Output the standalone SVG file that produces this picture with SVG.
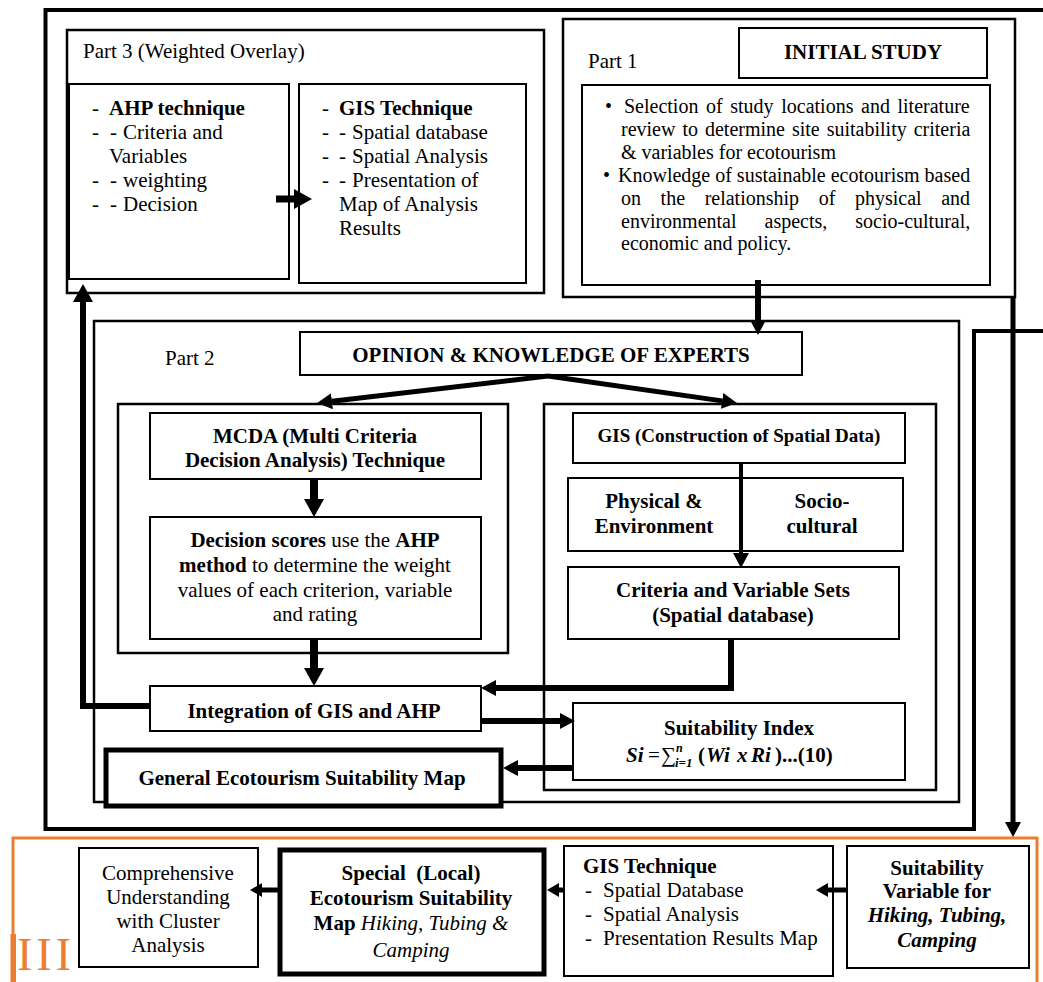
<svg xmlns="http://www.w3.org/2000/svg" width="1043" height="982" viewBox="0 0 1043 982">
<style>
.t{font-family:"Liberation Serif","Times New Roman",serif;font-size:21px;fill:#000}
.b{font-weight:bold}
.i{font-style:italic}
.c{text-anchor:middle}
.s20{font-size:20px}
.box{fill:#fff;stroke:#000;stroke-width:2}
.part{fill:#fff;stroke:#000;stroke-width:2.5}
.thick{fill:#fff;stroke:#000;stroke-width:5}
.conn{fill:none;stroke:#000}
.orange{fill:none;stroke:#ED7D31;stroke-width:3}
</style>
<defs>
<marker id="hL" viewBox="0 -10 18 20" markerWidth="18" markerHeight="20" refX="0" refY="0" orient="auto" markerUnits="userSpaceOnUse"><path d="M0,-10 L18,0 L0,10 z"/></marker>
<marker id="hM" viewBox="0 -8 15 16" markerWidth="15" markerHeight="16" refX="0" refY="0" orient="auto" markerUnits="userSpaceOnUse"><path d="M0,-8 L15,0 L0,8 z"/></marker>
<marker id="hS" viewBox="0 -7 12 14" markerWidth="12" markerHeight="14" refX="0" refY="0" orient="auto" markerUnits="userSpaceOnUse"><path d="M0,-7 L12,0 L0,7 z"/></marker>
</defs>
<rect width="1043" height="982" fill="#fff"/>

<g id="outer-frame">
<path d="M1043,10 H45.5 V829 H974 V331 H1043" fill="none" stroke="#000" stroke-width="4"/>
</g>

<g id="part3">
<rect class="part" x="67" y="30" width="477" height="263"/>
<text class="t" x="83" y="58">Part 3 (Weighted Overlay)</text>
</g>
<g id="ahp-technique">
<rect class="box" x="69" y="84" width="220" height="195"/>
<text class="t" y="115"><tspan x="92">-</tspan><tspan x="109" class="b">AHP technique</tspan></text>
<text class="t" y="139"><tspan x="92">-</tspan><tspan x="110">-</tspan><tspan x="123">Criteria and</tspan></text>
<text class="t" x="109" y="163">Variables</text>
<text class="t" y="187"><tspan x="92">-</tspan><tspan x="110">-</tspan><tspan x="123">weighting</tspan></text>
<text class="t" y="211"><tspan x="92">-</tspan><tspan x="110">-</tspan><tspan x="123">Decision</tspan></text>
</g>
<g id="gis-technique-3">
<rect class="box" x="299" y="84" width="227" height="199"/>
<text class="t" y="115"><tspan x="322">-</tspan><tspan x="339" class="b">GIS Technique</tspan></text>
<text class="t" y="139"><tspan x="322">-</tspan><tspan x="339">-</tspan><tspan x="352">Spatial database</tspan></text>
<text class="t" y="163"><tspan x="322">-</tspan><tspan x="339">-</tspan><tspan x="352">Spatial Analysis</tspan></text>
<text class="t" y="187"><tspan x="322">-</tspan><tspan x="339">-</tspan><tspan x="352">Presentation of</tspan></text>
<text class="t" x="339" y="211">Map of Analysis</text>
<text class="t" x="339" y="235">Results</text>
</g>

<g id="part1">
<rect class="part" x="563" y="19" width="452" height="278"/>
<text class="t" x="588" y="68">Part 1</text>
</g>
<g id="initial-study">
<rect class="box" x="739" y="28" width="248" height="50"/>
<text class="t b c" x="863" y="59">INITIAL STUDY</text>
</g>
<g id="study-content">
<rect class="box" x="582" y="85" width="408" height="200"/>
<text class="t s20" x="605" y="113">•</text>
<text class="t s20" x="624" y="113" word-spacing="2.6">Selection of study locations and literature</text>
<text class="t s20" x="621" y="136" word-spacing="2">review to determine site suitability criteria</text>
<text class="t s20" x="621" y="159">&amp; variables for ecotourism</text>
<text class="t s20" x="603" y="182">•</text>
<text class="t s20" x="618" y="182">Knowledge of sustainable ecotourism based</text>
<text class="t s20" x="621" y="205" word-spacing="14.6">on the relationship of physical and</text>
<text class="t s20" x="621" y="228" word-spacing="23">environmental aspects, socio-cultural,</text>
<text class="t s20" x="621" y="250">economic and policy.</text>
</g>

<g id="part2">
<rect class="part" x="94" y="321" width="865" height="481"/>
<text class="t" x="165" y="365">Part 2</text>
</g>
<g id="opinion">
<rect class="box" x="300" y="332" width="502" height="43"/>
<text class="t b c" x="551" y="362">OPINION &amp; KNOWLEDGE OF EXPERTS</text>
</g>
<g id="mcda-panel">
<rect class="part" x="118" y="404" width="390" height="249"/>
</g>
<g id="mcda">
<rect class="box" x="150" y="413" width="331" height="66"/>
<text class="t b c" x="315" y="443">MCDA (Multi Criteria</text>
<text class="t b c" x="315" y="467">Decision Analysis) Technique</text>
</g>
<g id="decision-scores">
<rect class="box" x="150" y="517" width="331" height="122"/>
<text class="t c" x="315" y="547"><tspan class="b">Decision scores</tspan> use the <tspan class="b">AHP</tspan></text>
<text class="t c" x="315" y="572"><tspan class="b">method</tspan> to determine the weight</text>
<text class="t c" x="315" y="597">values of each criterion, variable</text>
<text class="t c" x="315" y="621">and rating</text>
</g>
<g id="gis-panel">
<rect class="part" x="544" y="404" width="392" height="386"/>
</g>
<g id="gis-construction">
<rect class="box" x="573" y="413" width="332" height="50"/>
<text class="t b c" x="739" y="442" style="font-size:19px">GIS (Construction of Spatial Data)</text>
</g>
<g id="physical-socio">
<rect class="box" x="568" y="478" width="335" height="73"/>
<text class="t b c" x="654" y="508">Physical &amp;</text>
<text class="t b c" x="654" y="533">Environment</text>
<text class="t b c" x="822" y="508">Socio-</text>
<text class="t b c" x="822" y="533">cultural</text>
</g>
<g id="criteria-sets">
<rect class="box" x="568" y="567" width="331" height="72"/>
<text class="t b c" x="733" y="597">Criteria and Variable Sets</text>
<text class="t b c" x="733" y="622">(Spatial database)</text>
</g>
<g id="integration">
<rect class="box" x="150" y="686" width="331" height="45"/>
<text class="t b c" x="314" y="718">Integration of GIS and AHP</text>
</g>
<g id="suitability-index">
<rect class="box" x="573" y="703" width="332" height="77"/>
<text class="t b c" x="739" y="735">Suitability Index</text>
<text class="t b" y="762"><tspan x="626" class="i">Si</tspan><tspan x="648" style="font-weight:normal">=</tspan><tspan x="661" style="font-weight:normal">∑</tspan><tspan x="698">(</tspan><tspan x="706" class="i">Wi</tspan><tspan x="737" class="i">x</tspan><tspan x="751" class="i">Ri</tspan><tspan x="775">)</tspan><tspan x="782">...(10)</tspan></text>
<text class="t b i" x="676" y="752" style="font-size:12px">n</text>
<text class="t b i" x="675" y="767" style="font-size:13px">i=1</text>
</g>
<g id="general-map">
<rect class="thick" x="106" y="750" width="395" height="56"/>
<text class="t b c" x="302" y="785">General Ecotourism Suitability Map</text>
</g>

<g id="part-iii">
<path class="orange" d="M13,985 V838 H1037 V985"/>
<rect x="10.5" y="934" width="5.5" height="48" fill="#ED7D31"/>
<text x="17" y="970" letter-spacing="4" style="font-family:'Liberation Serif',serif;font-size:46px;fill:#ED7D31">III</text>
</g>
<g id="comprehensive">
<rect class="box" x="79" y="848" width="179" height="119"/>
<text class="t c" x="168" y="880">Comprehensive</text>
<text class="t c" x="168" y="904">Understanding</text>
<text class="t c" x="168" y="928">with Cluster</text>
<text class="t c" x="168" y="952">Analysis</text>
</g>
<g id="special-map">
<rect class="thick" x="280" y="850" width="264" height="124"/>
<text class="t b c" x="411" y="880">Special&#160; (Local)</text>
<text class="t b c" x="411" y="905">Ecotourism Suitability</text>
<text class="t c" x="411" y="930"><tspan class="b">Map</tspan> <tspan class="i">Hiking, Tubing &amp;</tspan></text>
<text class="t c i" x="411" y="957">Camping</text>
</g>
<g id="gis-technique">
<rect class="box" x="564" y="846" width="269" height="130"/>
<text class="t b" x="583" y="873">GIS Technique</text>
<text class="t" y="897"><tspan x="585">-</tspan><tspan x="603">Spatial Database</tspan></text>
<text class="t" y="921"><tspan x="585">-</tspan><tspan x="603">Spatial Analysis</tspan></text>
<text class="t" y="945"><tspan x="585">-</tspan><tspan x="603">Presentation Results Map</tspan></text>
</g>
<g id="suitability-variable">
<rect class="box" x="847" y="846" width="182" height="122"/>
<text class="t b c" x="937" y="875">Suitability</text>
<text class="t b c" x="937" y="898">Variable for</text>
<text class="t b i c" x="937" y="922">Hiking, Tubing,</text>
<text class="t b i c" x="937" y="947">Camping</text>
</g>

<g id="connectors">
<path class="conn" d="M276,199 H294" stroke-width="7" marker-end="url(#hL)"/>
<path class="conn" d="M150,706 H83 V302" stroke-width="6" marker-end="url(#hL)"/>
<path class="conn" d="M758,280 V320" stroke-width="6" marker-end="url(#hM)"/>
<path class="conn" d="M548,376 L332,401.3" stroke-width="5" marker-end="url(#hM)"/>
<path class="conn" d="M548,376 L722.1,400.9" stroke-width="5" marker-end="url(#hM)"/>
<path class="conn" d="M314,478 V499" stroke-width="8" marker-end="url(#hL)"/>
<path class="conn" d="M314,639 V668" stroke-width="8" marker-end="url(#hL)"/>
<path class="conn" d="M741,463 V553" stroke-width="4" marker-end="url(#hM)"/>
<path class="conn" d="M731,639 V688 H496" stroke-width="6" marker-end="url(#hM)"/>
<path class="conn" d="M481,721 H560" stroke-width="6" marker-end="url(#hM)"/>
<path class="conn" d="M573,768 H518" stroke-width="6" marker-end="url(#hM)"/>
<path class="conn" d="M1013,297 V822" stroke-width="5" marker-end="url(#hM)"/>
<path class="conn" d="M847,890 H828" stroke-width="5" marker-end="url(#hS)"/>
<path class="conn" d="M564,890 H559" stroke-width="5" marker-end="url(#hS)"/>
<path class="conn" d="M278,890 H262" stroke-width="5" marker-end="url(#hS)"/>
</g>
</svg>
